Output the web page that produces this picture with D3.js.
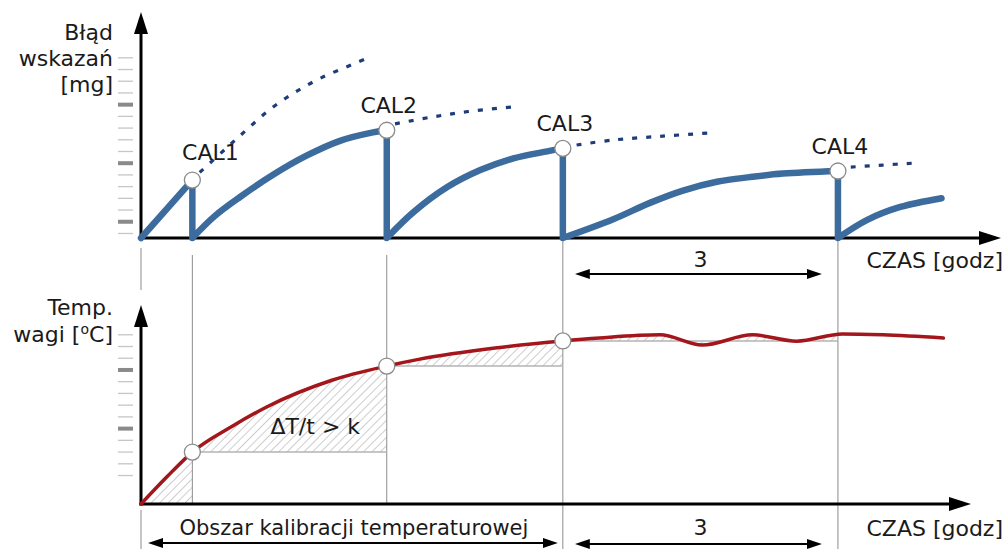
<!DOCTYPE html>
<html>
<head>
<meta charset="utf-8">
<script src="https://cdn.jsdelivr.net/npm/d3@7"></script>
<style>
body { margin: 0; background: #fff; }
text { font-family: "DejaVu Sans", Verdana, sans-serif; fill: #1a1a1a; }
</style>
</head>
<body>
<div id="chart"></div>
<script>
// czasy kalibracji [godz] i bledy w chwili kalibracji [mg]
var calT = [0.56, 2.68, 4.6, 7.6];
var calLabels = ["CAL1", "CAL2", "CAL3", "CAL4"];
var calErr = [4.95, 9.2, 7.65, 5.72];

// blad wskazan - kolejne odcinki (czas, mg)
var errSeg1 = [[0, 0], [0.56, 4.95]];
var errSeg2 = [[0.56, 0], [0.8, 1.85], [1.08, 3.5], [1.44, 5.4], [1.81, 7.05], [2.17, 8.3], [2.53, 9.02], [2.68, 9.2]];
var errSeg3 = [[2.68, 0], [2.97, 2.2], [3.34, 4.35], [3.7, 5.8], [4.06, 6.8], [4.43, 7.4], [4.6, 7.65]];
var errSeg4 = [[4.6, 0], [5.15, 1.6], [5.55, 3.0], [5.91, 4.05], [6.28, 4.8], [6.64, 5.2], [7.0, 5.5], [7.6, 5.72]];
var errSeg5 = [[7.6, 0], [7.92, 1.55], [8.28, 2.65], [8.73, 3.4]];

// blad bez kalibracji (linie kropkowane)
var errProj1 = [[0.64, 5.6], [0.92, 7.6], [1.16, 9.3], [1.41, 11.0], [1.68, 12.45], [1.97, 13.7], [2.3, 14.8], [2.48, 15.4]];
var errProj2 = [[2.77, 9.75], [3.15, 10.3], [3.57, 10.8], [4.13, 11.25]];
var errProj3 = [[4.75, 7.94], [5.15, 8.37], [5.69, 8.7], [6.2, 8.97]];
var errProj4 = [[7.74, 6.06], [8.09, 6.23], [8.44, 6.4]];

// temperatura wagi (czas, oC)
var tempData = [[0, 0], [0.28, 2.3], [0.56, 4.43], [1.0, 6.65], [1.37, 8.27], [2.09, 10.57], [2.68, 11.76],
    [3.04, 12.35], [3.86, 13.3], [4.6, 13.9], [5.0, 14.15], [5.66, 14.42], [6.12, 13.55], [6.67, 14.42],
    [7.15, 13.88], [7.65, 14.5], [8.09, 14.42], [8.75, 14.15]];
var tempCal = [4.43, 11.76, 13.9];
var hatchBase = [0, 4.43, 11.76, 13.9];

// podzialki osi
var errTicks = [0.43, 1.43, 2.43, 3.43, 4.43, 5.43, 6.43, 7.43, 8.43, 9.43, 10.43, 11.43, 12.43, 13.43, 14.43, 15.43];
var errMajor = [1.43, 6.43, 11.43];
var tempTicks = [2.47, 3.47, 4.47, 5.47, 6.47, 7.47, 8.47, 9.47, 10.47, 11.47, 12.47, 13.47, 14.47];
var tempMajor = [6.47, 11.47];

var width = 1007;
var height = 549;
var Blue = "#3c6c9e";
var Navy = "#1f3c7a";
var Red = "#a3161b";

var svg = d3.select('#chart')
    .append('svg')
    .attr('width', width)
    .attr('height', height);

var x = d3.scaleLinear().domain([0, 9.4]).range([141, 1003]);
var yErr = d3.scaleLinear().domain([0, 19.3]).range([238, 12]);
var yTemp = d3.scaleLinear().domain([0, 17]).range([504, 304.6]);

var defs = svg.append('defs');

function addMarker(id, len, half) {
    defs.append('marker')
        .attr('id', id)
        .attr('viewBox', '0 0 ' + len + ' ' + (half * 2))
        .attr('refX', 1)
        .attr('refY', half)
        .attr('markerWidth', len)
        .attr('markerHeight', half * 2)
        .attr('markerUnits', 'userSpaceOnUse')
        .attr('orient', 'auto-start-reverse')
        .append('path')
        .attr('d', 'M0,0L' + len + ',' + half + 'L0,' + (half * 2) + 'Z')
        .attr('fill', '#000');
}
addMarker('axHead', 22, 7);
addMarker('dimHead', 15, 5);

// kreskowanie
defs.append('pattern')
    .attr('id', 'hatch')
    .attr('patternUnits', 'userSpaceOnUse')
    .attr('width', 6)
    .attr('height', 6)
    .attr('patternTransform', 'rotate(45)')
    .append('line')
    .attr('x1', 0).attr('y1', 0)
    .attr('x2', 0).attr('y2', 6)
    .attr('stroke', '#9c9c9c')
    .attr('stroke-width', 1);

// strzalka: linia skrocona o grot
function arrow(x1, y1, x2, y2, id, len, sw, both) {
    var dx = x2 - x1, dy = y2 - y1;
    var l = Math.sqrt(dx * dx + dy * dy);
    var ux = dx / l, uy = dy / l;
    var sx = both ? x1 + ux * (len - 1) : x1;
    var sy = both ? y1 + uy * (len - 1) : y1;
    var line = svg.append('line')
        .attr('x1', sx).attr('y1', sy)
        .attr('x2', x2 - ux * (len - 1)).attr('y2', y2 - uy * (len - 1))
        .attr('stroke', '#000')
        .attr('stroke-width', sw)
        .attr('marker-end', 'url(#' + id + ')');
    if (both) line.attr('marker-start', 'url(#' + id + ')');
}

// pionowe linie pomocnicze
var guides = [
    [x(0), 248, 290], [x(0), 510, 549],
    [x(calT[0]), 255, yTemp(0)], [x(calT[1]), 255, yTemp(0)],
    [x(calT[2]), yErr(0), 549], [x(calT[3]), yErr(0), 549]
];
svg.selectAll('.guide')
    .data(guides)
    .enter()
    .append('line')
    .attr('class', 'guide')
    .attr('x1', d => d[0]).attr('x2', d => d[0])
    .attr('y1', d => d[1]).attr('y2', d => d[2])
    .attr('stroke', '#8c8c8c')
    .attr('stroke-width', 1);

// obszary kreskowane pod krzywa temperatury
var bounds = [0].concat(calT);
hatchBase.forEach(function(base, i) {
    defs.append('clipPath')
        .attr('id', 'clip' + i)
        .append('rect')
        .attr('x', x(bounds[i]))
        .attr('y', 0)
        .attr('width', x(bounds[i + 1]) - x(bounds[i]))
        .attr('height', height);

    var area = d3.area()
        .x(d => x(d[0]))
        .y0(yTemp(base))
        .y1(d => yTemp(d[1]))
        .curve(d3.curveMonotoneX);

    svg.append('path')
        .attr('d', area(tempData))
        .attr('fill', 'url(#hatch)')
        .attr('clip-path', 'url(#clip' + i + ')');

    if (i > 0) {
        svg.append('line')
            .attr('x1', x(bounds[i])).attr('x2', x(bounds[i + 1]))
            .attr('y1', yTemp(base)).attr('y2', yTemp(base))
            .attr('stroke', '#b3b3b3')
            .attr('stroke-width', 1.5);
    }
});

// podzialki
function drawTicks(scale, ticks, major) {
    var g = svg.append('g')
        .attr('transform', 'translate(133,0)')
        .call(d3.axisLeft(scale).tickValues(ticks).tickSize(15).tickFormat(''));
    g.select('.domain').remove();
    g.selectAll('.tick line')
        .attr('stroke', d => major.includes(d) ? '#8a8a8a' : '#c6c6c6')
        .attr('stroke-width', d => major.includes(d) ? 4 : 1.3);
}
drawTicks(yErr, errTicks, errMajor);
drawTicks(yTemp, tempTicks, tempMajor);

// osie
arrow(x(0), yErr(0) + 1.5, x(0), 12, 'axHead', 22, 3, false);
arrow(x(0) - 1.5, yErr(0), 1001, yErr(0), 'axHead', 22, 3, false);
arrow(x(0), yTemp(0) + 1.5, x(0), 305, 'axHead', 22, 3, false);
arrow(x(0) - 1.5, yTemp(0), 971, yTemp(0), 'axHead', 22, 3, false);

// blad wskazan - pila
var blueLine = d3.line()
    .x(d => x(d[0]))
    .y(d => yErr(d[1]))
    .curve(d3.curveCatmullRom.alpha(0.5));
var segs = [errSeg1, errSeg2, errSeg3, errSeg4, errSeg5];
var sawD = segs.map(function(s, i) {
    var d = blueLine(s);
    if (i > 0) d = 'L' + d.slice(1);
    if (i < calT.length) d += 'L' + x(calT[i]) + ',' + yErr(0);
    return d;
}).join('');
svg.append('path')
    .attr('d', sawD)
    .attr('fill', 'none')
    .attr('stroke', Blue)
    .attr('stroke-width', 6.5)
    .attr('stroke-linejoin', 'round')
    .attr('stroke-linecap', 'round');

// linie kropkowane
svg.selectAll('.proj')
    .data([errProj1, errProj2, errProj3, errProj4])
    .enter()
    .append('path')
    .attr('class', 'proj')
    .attr('d', blueLine)
    .attr('fill', 'none')
    .attr('stroke', Navy)
    .attr('stroke-width', 3.2)
    .attr('stroke-dasharray', '5,9');

// temperatura
svg.append('path')
    .attr('d', d3.line().x(d => x(d[0])).y(d => yTemp(d[1])).curve(d3.curveMonotoneX)(tempData))
    .attr('fill', 'none')
    .attr('stroke', Red)
    .attr('stroke-width', 3.5)
    .attr('stroke-linecap', 'round');

// punkty kalibracji
svg.selectAll('.calTop')
    .data(calT)
    .enter()
    .append('circle')
    .attr('class', 'calTop')
    .attr('cx', d => x(d))
    .attr('cy', (d, i) => yErr(calErr[i]))
    .attr('r', 8)
    .attr('fill', '#fff')
    .attr('stroke', '#8a8a8a')
    .attr('stroke-width', 1.3);

svg.selectAll('.calBot')
    .data(tempCal)
    .enter()
    .append('circle')
    .attr('class', 'calBot')
    .attr('cx', (d, i) => x(calT[i]))
    .attr('cy', d => yTemp(d))
    .attr('r', 8)
    .attr('fill', '#fff')
    .attr('stroke', '#8a8a8a')
    .attr('stroke-width', 1.3);

svg.selectAll('.calLabel')
    .data(calLabels)
    .enter()
    .append('text')
    .attr('class', 'calLabel')
    .attr('x', (d, i) => x(calT[i]) + (i === 0 ? 18 : 2))
    .attr('y', (d, i) => yErr(calErr[i]) - (i === 0 ? 20 : 17))
    .attr('text-anchor', 'middle')
    .style('font-size', '22px')
    .text(d => d);

// opisy osi
function label(txt, px, py, anchor, size) {
    return svg.append('text')
        .attr('x', px)
        .attr('y', py)
        .attr('text-anchor', anchor)
        .style('font-size', (size || 22) + 'px')
        .text(txt);
}
label('Błąd', 113, 40, 'end');
label('wskazań', 113, 66, 'end');
label('[mg]', 113, 92, 'end');
label('Temp.', 113, 315, 'end');

var wagi = svg.append('text')
    .attr('x', 113)
    .attr('y', 342)
    .attr('text-anchor', 'end')
    .style('font-size', '22px');
wagi.append('tspan').text('wagi [');
wagi.append('tspan').attr('dy', -8).style('font-size', '14px').text('o');
wagi.append('tspan').attr('dy', 8).text('C]');

label('CZAS [godz]', 1003, 268, 'end');
label('CZAS [godz]', 1003, 536, 'end');
label('3', (x(calT[2]) + x(calT[3])) / 2, 267, 'middle');
label('3', (x(calT[2]) + x(calT[3])) / 2, 535, 'middle');
label('\u0394T/t > k', x(1.9), yTemp(6), 'middle');
label('Obszar kalibracji temperaturowej', (x(0) + x(calT[2])) / 2 + 2, 535, 'middle', 21);

// strzalki wymiarowe
arrow(x(calT[2]) + 12, 274, x(calT[3]) - 16, 274, 'dimHead', 15, 2, true);
arrow(x(calT[2]) + 12, 544, x(calT[3]) - 16, 544, 'dimHead', 15, 2, true);
arrow(x(0) + 7, 543, x(calT[2]) - 5, 543, 'dimHead', 15, 2, true);
</script>
</body>
</html>
